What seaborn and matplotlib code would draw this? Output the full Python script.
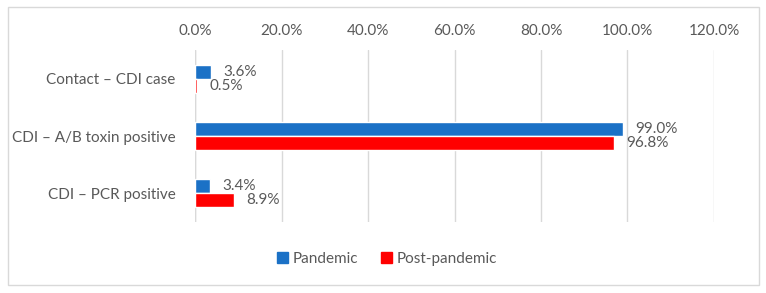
import pandas as pd
import seaborn as sns
import matplotlib.pyplot as plt
from matplotlib.patches import Rectangle
from matplotlib.ticker import FuncFormatter

categories = ["Contact – CDI case", "CDI – A/B toxin positive", "CDI – PCR positive"]
pandemic = [3.6, 99.0, 3.4]
post_pandemic = [0.5, 96.8, 8.9]
periods = ["Pandemic", "Post-pandemic"]
colors = ["#1B71C6", "#FF0000"]
xticks = [0, 20, 40, 60, 80, 100, 120]

df = pd.DataFrame({
    "Category": categories * 2,
    "Value": pandemic + post_pandemic,
    "Period": [periods[0]] * 3 + [periods[1]] * 3,
})

sns.set_style("white")
plt.rcParams["font.family"] = ["Lato", "DejaVu Sans"]
text_color = "#595959"

fig = plt.figure(figsize=(7.66, 2.93), dpi=100)
ax = fig.add_axes([0.2546, 0.242, 0.9321 - 0.2546, 0.829 - 0.242])

sns.barplot(data=df, x="Value", y="Category", hue="Period", orient="h",
            palette=colors, width=0.49, ax=ax, legend=False, saturation=1)

ax.set_xlim(0, 120)
ax.set_xticks(xticks)
ax.xaxis.set_major_formatter(FuncFormatter(lambda v, p: f"{v:.1f}%"))
ax.xaxis.tick_top()
ax.tick_params(axis="both", length=0, labelsize=11, labelcolor=text_color)
ax.tick_params(axis="x", pad=9)
ax.tick_params(axis="y", pad=14)
ax.set_xlabel("")
ax.set_ylabel("")
ax.grid(axis="x", color="#d9d9d9", linewidth=1)
ax.set_axisbelow(True)
for s in ax.spines.values():
    s.set_visible(False)
ax.axvline(0, color="#d9d9d9", linewidth=1, zorder=0)

for cont in ax.containers:
    ax.bar_label(cont, fmt="%.1f%%", padding=9, fontsize=11, color=text_color)

handles = [Rectangle((0, 0), 1, 1, color=c) for c in colors]
fig.legend(handles, periods, loc="center", bbox_to_anchor=(0.505, 0.117), ncol=2,
           frameon=False, fontsize=11, labelcolor=text_color, handlelength=0.7,
           handleheight=0.7, handletextpad=0.3, columnspacing=1.5)

fig.patches.append(Rectangle((8 / 766, 1 - 285 / 293), 751 / 766, 278 / 293,
                             transform=fig.transFigure, fill=False,
                             edgecolor="#d9d9d9", linewidth=1))

fig.savefig("out.png", dpi=100)
